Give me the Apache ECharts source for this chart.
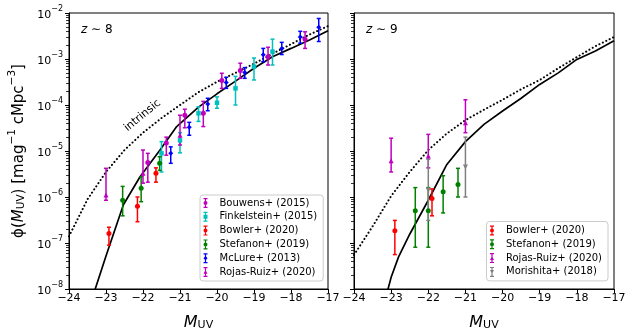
<!DOCTYPE html>
<html>
<head>
<meta charset="utf-8">
<script src="https://cdn.jsdelivr.net/npm/echarts@6/dist/echarts.min.js"></script>
<style>
  html, body { margin: 0; padding: 0; background: #fff; }
  #chart { width: 625px; height: 331px; }
</style>
</head>
<body>
<div id="chart"></div>
<script>
// ---- model curves (M_UV, phi) ----
const modelM8 = [-23.32, -23.0, -22.53, -22.08, -21.54, -21.09, -20.5, -20.0, -19.5, -19.0, -18.5, -18.0, -17.5, -17.0];
const modelPhi8 = [8.5e-9, 5.2e-8, 6.8e-7, 2.75e-6, 1.05e-5, 3.4e-5, 9.0e-5, 1.75e-4, 3.3e-4, 6.3e-4, 1.12e-3, 1.7e-3, 2.6e-3, 4.1e-3];
const intrM8 = [-24, -23.5, -23, -22.5, -22, -21.5, -21, -20.5, -20, -19.5, -19, -18.5, -18, -17.5, -17];
const intrPhi8 = [1.4e-7, 8.9e-7, 3.5e-6, 1.05e-5, 2.5e-5, 5.2e-5, 1.0e-4, 1.9e-4, 3.2e-4, 5.0e-4, 7.9e-4, 1.3e-3, 2.1e-3, 3.4e-3, 5.2e-3];

const modelM9 = [-23.1, -23.0, -22.8, -22.5, -22.0, -21.5, -21.0, -20.5, -20.0, -19.5, -19.0, -18.5, -18.0, -17.5, -17.0];
const modelPhi9 = [8.9e-9, 1.8e-8, 5.0e-8, 1.55e-7, 8.5e-7, 5.1e-6, 1.6e-5, 3.8e-5, 7.4e-5, 1.4e-4, 2.8e-4, 5.0e-4, 9.8e-4, 1.5e-3, 2.5e-3];
const intrM9 = [-24, -23.5, -23, -22.5, -22, -21.5, -21, -20.5, -20, -19.5, -19, -18.5, -18, -17.5, -17];
const intrPhi9 = [5.5e-8, 2.3e-7, 1.05e-6, 3.5e-6, 1.05e-5, 2.4e-5, 4.7e-5, 7.9e-5, 1.3e-4, 2.2e-4, 3.5e-4, 6.3e-4, 1.1e-3, 1.9e-3, 3.0e-3];

// ---- observations z~8 ----
const bouwensM = [-21.87, -21.37, -20.87, -20.37, -19.87, -19.37, -18.62, -17.62];
const bouwensPhi = [5.6e-6, 1.5e-5, 6.0e-5, 6.6e-5, 3.4e-4, 5.6e-4, 1.12e-3, 2.7e-3];
const bouwensHi = [8.9e-6, 2.0e-5, 8.1e-5, 1.2e-4, 4.9e-4, 8.1e-4, 1.8e-3, 3.9e-3];
const bouwensLo = [2.1e-6, 8.1e-6, 3.2e-5, 3.4e-5, 2.3e-4, 3.8e-4, 7.4e-4, 1.7e-3];

const finkM = [-21.5, -21.0, -20.5, -20.0, -19.5, -19.0, -18.5];
const finkPhi = [8.9e-6, 1.7e-5, 6.6e-5, 1.12e-4, 2.3e-4, 6.8e-4, 1.45e-3];
const finkHi = [1.6e-5, 2.5e-5, 9.1e-5, 1.5e-4, 4.2e-4, 1.05e-3, 2.7e-3];
const finkLo = [3.5e-6, 9.1e-6, 4.4e-5, 8.5e-5, 1.0e-4, 3.5e-4, 7.4e-4];

const bowlerM8 = [-22.92, -22.15, -21.65];
const bowlerPhi8 = [1.6e-7, 6.3e-7, 3.3e-6];
const bowlerHi8 = [2.2e-7, 1.0e-6, 4.3e-6];
const bowlerLo8 = [9.0e-8, 2.9e-7, 2.1e-6];

const stefM8 = [-22.55, -22.05, -21.55];
const stefPhi8 = [8.5e-7, 1.55e-6, 5.4e-6];
const stefHi8 = [1.7e-6, 2.75e-6, 7.5e-6];
const stefLo8 = [3.9e-7, 7.9e-7, 3.8e-6];

const mclureM = [-21.25, -20.75, -20.25, -19.75, -19.25, -18.75, -18.25, -17.75, -17.25];
const mclurePhi = [8.9e-6, 3.3e-5, 1.05e-4, 3.1e-4, 5.1e-4, 1.23e-3, 1.7e-3, 3.0e-3, 4.9e-3];
const mclureHi = [1.23e-5, 4.2e-5, 1.4e-4, 4.0e-4, 6.5e-4, 1.7e-3, 2.3e-3, 4.0e-3, 7.6e-3];
const mclureLo = [5.4e-6, 2.2e-5, 7.5e-5, 2.3e-4, 3.8e-4, 8.7e-4, 1.25e-3, 2.2e-3, 2.4e-3];

const rojasM8 = [-23.0, -22.0, -21.0];
const rojasPhi8 = [1.1e-6, 3.3e-6, 2.2e-5];
const rojasHi8 = [4.2e-6, 1.05e-5, 6.0e-5];
const rojasLo8 = [8.5e-7, 2.0e-6, 1.35e-5];

// ---- observations z~9 ----
const bowlerM9 = [-22.9, -21.9];
const bowlerPhi9 = [1.85e-7, 9.3e-7];
const bowlerHi9 = [3.1e-7, 1.5e-6];
const bowlerLo9 = [5.6e-8, 3.9e-7];

const stefM9 = [-22.35, -22.0, -21.6, -21.2];
const stefPhi9 = [5.0e-7, 5.0e-7, 1.3e-6, 1.86e-6];
const stefHi9 = [1.6e-6, 1.6e-6, 2.9e-6, 4.2e-6];
const stefLo9 = [8.1e-8, 8.1e-8, 4.5e-7, 1.0e-6];

const rojasM9 = [-23.0, -22.0, -21.0];
const rojasPhi9 = [6.1e-6, 7.8e-6, 4.1e-5];
const rojasHi9 = [1.9e-5, 2.3e-5, 1.3e-4];
const rojasLo9 = [3.5e-6, 4.3e-6, 2.5e-5];

const morM = [-22.0, -21.0];
const morPhi = [1.4e-6, 4.5e-6];
const morHi = [6.6e-6, 2.0e-5];
const morLo = [3.1e-7, 1.0e-6];

// log-axis decades and minor multipliers
const decades = [-8, -7, -6, -5, -4, -3];
const minorMult = [2, 3, 4, 5, 6, 7, 8, 9];

const FONT = 'DejaVu Sans';
const MINUS = '\u2212';

// errorbar + marker legend icons (4 x 10 box)
const barPath = 'M1.4,0 H2.6 V10 H1.4 Z M0,0 H4 V1.2 H0 Z M0,8.8 H4 V10 H0 Z ';
const iconCircle = 'path://' + barPath + 'M0,5 A2,2 0 1 1 4,5 A2,2 0 1 1 0,5 Z';
const iconSquare = 'path://' + barPath + 'M0,3 H4 V7 H0 Z';
const iconTri = 'path://' + barPath + 'M0,6.8 L2,3 L4,6.8 Z';
const iconTriDown = 'path://' + barPath + 'M0,3.2 L4,3.2 L2,7 Z';
const iconDiamond = 'path://' + barPath + 'M2,2.6 L4,5 L2,7.4 L0,5 Z';

function pairs(xs, ys) { return xs.map((x, i) => [x, ys[i]]); }
function rows(xs, ys, hi, lo) { return xs.map((x, i) => [x, ys[i], hi[i], lo[i]]); }

function renderBar(params, api) {
  const x = api.value(0);
  const top = api.coord([x, api.value(2)]);
  const bot = api.coord([x, api.value(3)]);
  const c = api.visual('color');
  const cap = 2;
  const st = { stroke: c, lineWidth: 1.5 };
  return {
    type: 'group',
    children: [
      { type: 'line', shape: { x1: top[0], y1: top[1], x2: bot[0], y2: bot[1] }, style: st },
      { type: 'line', shape: { x1: top[0] - cap, y1: top[1], x2: top[0] + cap, y2: top[1] }, style: st },
      { type: 'line', shape: { x1: bot[0] - cap, y1: bot[1], x2: bot[0] + cap, y2: bot[1] }, style: st }
    ]
  };
}

function obs(name, g, color, symbol, xs, ys, hi, lo, rot) {
  return [
    {
      name: name, type: 'custom', xAxisIndex: g, yAxisIndex: g,
      itemStyle: { color: color }, renderItem: renderBar,
      encode: { x: 0, y: 1 }, data: rows(xs, ys, hi, lo), clip: true, z: 3
    },
    {
      name: name, type: 'scatter', xAxisIndex: g, yAxisIndex: g,
      symbol: symbol, symbolSize: symbol === 'rect' ? 4.5 : 5, symbolRotate: rot || 0,
      itemStyle: { color: color, opacity: 1 }, data: pairs(xs, ys), z: 4
    }
  ];
}

function curve(g, xs, ys, dotted) {
  return {
    type: 'line', xAxisIndex: g, yAxisIndex: g, data: pairs(xs, ys),
    showSymbol: false, symbol: 'none', smooth: false, clip: true, silent: true,
    lineStyle: dotted
      ? { color: '#000', width: 2, type: [0.1, 3.7], cap: 'round' }
      : { color: '#000', width: 1.7 },
    z: 2
  };
}

// minor log ticks drawn through the y scale, outside the frame
function minorTicks(g) {
  const vals = [];
  decades.forEach(d => minorMult.forEach(k => vals.push([-24, k * Math.pow(10, d)])));
  return {
    type: 'custom', xAxisIndex: g, yAxisIndex: g, silent: true, clip: false, z: 5,
    encode: { x: 0, y: 1 }, data: vals,
    renderItem: (params, api) => {
      const p = api.coord([api.value(0), api.value(1)]);
      const y = Math.round(p[1]) + 0.5;
      return {
        type: 'line', shape: { x1: p[0] - 3, y1: y, x2: p[0], y2: y },
        style: { stroke: '#000', lineWidth: 0.8 }
      };
    }
  };
}

function xAxis(g) {
  return {
    gridIndex: g, type: 'value', min: -24, max: -17, interval: 1,
    axisLine: { show: true, lineStyle: { color: '#000', width: 1 } },
    axisTick: { show: true, inside: false, length: 4, lineStyle: { color: '#000', width: 1 } },
    axisLabel: {
      color: '#000', fontFamily: FONT, fontSize: 11, margin: 4, showMinLabel: true, showMaxLabel: true,
      formatter: v => (v < 0 ? MINUS + Math.abs(v) : String(v))
    },
    splitLine: { show: false },
    name: '{i|M}{s|UV}', nameLocation: 'middle', nameGap: 24,
    nameTextStyle: {
      color: '#000', fontFamily: FONT,
      rich: {
        i: { fontSize: 16, fontStyle: 'italic', fontFamily: FONT, lineHeight: 18, verticalAlign: 'bottom' },
        s: { fontSize: 11, fontFamily: FONT, lineHeight: 9, verticalAlign: 'bottom' }
      }
    }
  };
}

function yAxis(g, labels) {
  const ax = {
    gridIndex: g, type: 'log', logBase: 10, min: 1e-8, max: 1e-2, splitNumber: 6,
    axisLine: { show: true, lineStyle: { color: '#000', width: 1 } },
    axisTick: { show: true, inside: false, length: 4, lineStyle: { color: '#000', width: 1 } },
    axisLabel: {
      show: labels, color: '#000', fontFamily: FONT, margin: 6,
      formatter: v => '{b|10}{s|' + MINUS + Math.abs(Math.round(Math.log10(v))) + '}',
      rich: {
        b: { fontSize: 11, fontFamily: FONT, color: '#000', lineHeight: 16, verticalAlign: 'bottom' },
        s: { fontSize: 8, fontFamily: FONT, color: '#000', lineHeight: 10, verticalAlign: 'top' }
      }
    },
    splitLine: { show: false },
    minorTick: { show: false }
  };
  if (labels) {
    ax.name = '{b|\u03d5(}{i|M}{sb|UV}{b|) [mag}{sp|' + MINUS + '1}{b| cMpc}{sp|' + MINUS + '3}{b|]}';
    ax.nameLocation = 'middle';
    ax.nameRotate = 90;
    ax.nameGap = 42;
    ax.nameTextStyle = {
      color: '#000', fontFamily: FONT,
      rich: {
        b: { fontSize: 15, fontFamily: FONT, lineHeight: 20, verticalAlign: 'bottom' },
        i: { fontSize: 15, fontFamily: FONT, fontStyle: 'italic', lineHeight: 20, verticalAlign: 'bottom' },
        sb: { fontSize: 10.5, fontFamily: FONT, lineHeight: 9, verticalAlign: 'bottom' },
        sp: { fontSize: 10.5, fontFamily: FONT, lineHeight: 12, verticalAlign: 'top' }
      }
    };
  }
  return ax;
}

const legendBase = {
  orient: 'vertical', itemWidth: 18, itemHeight: 10, itemGap: 3.8, symbolKeepAspect: true,
  selectedMode: false, backgroundColor: 'rgba(255,255,255,0.8)',
  borderColor: '#cccccc', borderWidth: 1, borderRadius: 3,
  textStyle: { fontFamily: FONT, fontSize: 10, color: '#000', lineHeight: 10 }
};

const option = {
  backgroundColor: '#fff',
  animation: false,
  grid: [
    { left: 69, top: 13, width: 259, height: 276, show: true, borderColor: '#000', borderWidth: 1, outerBoundsMode: 'none' },
    { left: 354, top: 13, width: 260, height: 276, show: true, borderColor: '#000', borderWidth: 1, outerBoundsMode: 'none' }
  ],
  xAxis: [xAxis(0), xAxis(1)],
  yAxis: [yAxis(0, true), yAxis(1, false)],
  legend: [
    Object.assign({}, legendBase, {
      left: 200, top: 195, padding: [3, 6, 4, 3.5],
      data: [
        { name: 'Bouwens+ (2015)', icon: iconCircle },
        { name: 'Finkelstein+ (2015)', icon: iconSquare },
        { name: 'Bowler+ (2020)', icon: iconCircle },
        { name: 'Stefanon+ (2019)', icon: iconCircle },
        { name: 'McLure+ (2013)', icon: iconDiamond },
        { name: 'Rojas-Ruiz+ (2020)', icon: iconTri }
      ]
    }),
    Object.assign({}, legendBase, {
      left: 486.5, top: 221.5, padding: [4, 6, 4, 3.5],
      data: [
        { name: 'Bowler+ (2020)', icon: iconCircle },
        { name: 'Stefanon+ (2019)', icon: iconCircle },
        { name: 'Rojas-Ruiz+ (2020)', icon: iconTri },
        { name: 'Morishita+ (2018)', icon: iconTriDown }
      ]
    })
  ],
  graphic: [
    {
      type: 'text', left: 81, top: 24, silent: true,
      style: {
        text: '{i|z}{n| \u223c 8}', fontFamily: FONT,
        rich: { i: { fontSize: 12, fontStyle: 'italic', fontFamily: FONT }, n: { fontSize: 12, fontFamily: FONT } }
      }
    },
    {
      type: 'text', left: 366, top: 24, silent: true,
      style: {
        text: '{i|z}{n| \u223c 9}', fontFamily: FONT,
        rich: { i: { fontSize: 12, fontStyle: 'italic', fontFamily: FONT }, n: { fontSize: 12, fontFamily: FONT } }
      }
    },
    {
      type: 'text', x: 142.5, y: 115.5, rotation: 0.69, silent: true,
      style: { text: 'intrinsic', fontFamily: FONT, fontSize: 11, fill: '#000', align: 'center', verticalAlign: 'middle' }
    }
  ],
  series: [
    minorTicks(0),
    minorTicks(1),
    curve(0, intrM8, intrPhi8, true),
    curve(0, modelM8, modelPhi8, false),
    ...obs('Bouwens+ (2015)', 0, '#bf00bf', 'circle', bouwensM, bouwensPhi, bouwensHi, bouwensLo),
    ...obs('Finkelstein+ (2015)', 0, '#00bfbf', 'rect', finkM, finkPhi, finkHi, finkLo),
    ...obs('Bowler+ (2020)', 0, '#ff0000', 'circle', bowlerM8, bowlerPhi8, bowlerHi8, bowlerLo8),
    ...obs('Stefanon+ (2019)', 0, '#008000', 'circle', stefM8, stefPhi8, stefHi8, stefLo8),
    ...obs('McLure+ (2013)', 0, '#0000ff', 'diamond', mclureM, mclurePhi, mclureHi, mclureLo),
    ...obs('Rojas-Ruiz+ (2020)', 0, '#bf00bf', 'triangle', rojasM8, rojasPhi8, rojasHi8, rojasLo8),
    curve(1, intrM9, intrPhi9, true),
    curve(1, modelM9, modelPhi9, false),
    ...obs('Bowler+ (2020)', 1, '#ff0000', 'circle', bowlerM9, bowlerPhi9, bowlerHi9, bowlerLo9),
    ...obs('Stefanon+ (2019)', 1, '#008000', 'circle', stefM9, stefPhi9, stefHi9, stefLo9),
    ...obs('Rojas-Ruiz+ (2020)', 1, '#bf00bf', 'triangle', rojasM9, rojasPhi9, rojasHi9, rojasLo9),
    ...obs('Morishita+ (2018)', 1, '#808080', 'triangle', morM, morPhi, morHi, morLo, 180)
  ]
};

const chart = echarts.init(document.getElementById('chart'));
chart.setOption(option);
</script>
</body>
</html>
